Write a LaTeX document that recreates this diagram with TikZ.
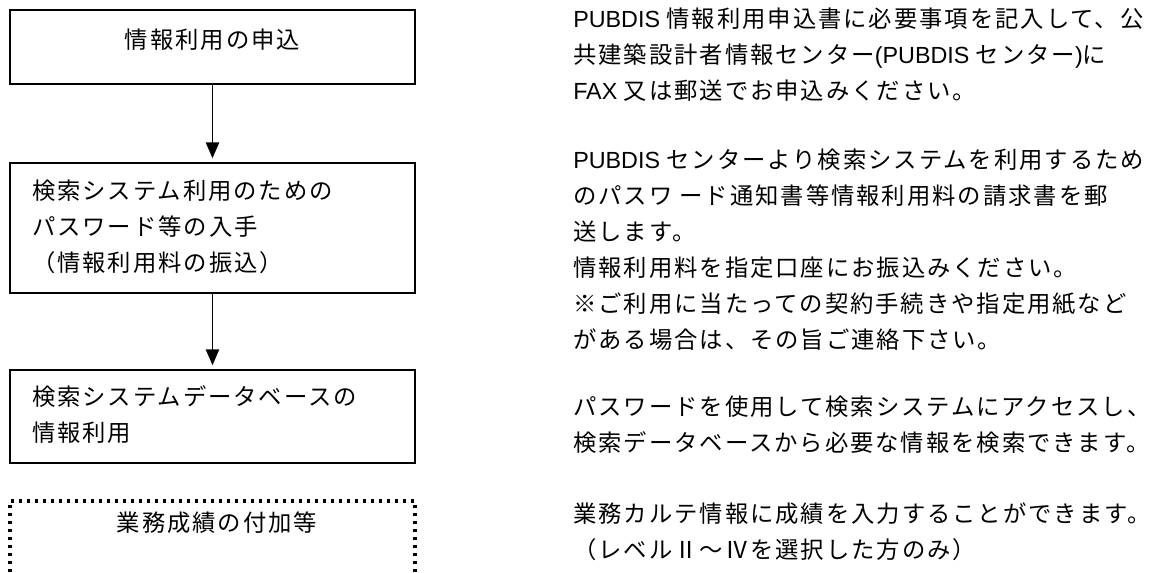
\documentclass[tikz,border=0pt]{standalone}
\usepackage{fontspec}
\setmainfont{Noto Sans CJK JP}[LetterSpace=8.4]
\newfontfamily\enfont{Liberation Sans}[Scale=1.0]
\newcommand{\enf}[1]{{\enfont #1}}
\newcommand{\jpsize}{\fontsize{17.5pt}{27pt}\selectfont}
\usepackage{tikz}
\usetikzlibrary{arrows.meta}
\tikzset{
  stepbox/.style={draw, line width=1.1pt, minimum width=303.75pt, text width=270.75pt,
    inner xsep=16.5pt, inner ysep=0pt, align=left, font=\jpsize},
  note/.style={anchor=north west, inner sep=0pt, align=left, font=\jpsize},
  flow/.style={-{Triangle[length=12pt,width=10pt]}, line width=1.1pt, shorten >=3pt},
  dotframe/.style={line width=2.4pt, dash pattern=on 2.4pt off 3.6pt}
}
\begin{document}
\begin{tikzpicture}[x=0.75pt, y=-0.75pt]
        \useasboundingbox (0,0) rectangle (1161,572);
        % Steps on the left
        \node[stepbox, align=center, minimum height=55.5pt, text height=19pt, text depth=17pt] (apply) at (212.5,47) {情報利用の申込};
        \node[stepbox, minimum height=97.5pt] (password) at (212.5,228) {\strut 検索システム利用のための\\パスワード等の入手\\（情報利用料の振込）\strut};
        \node[stepbox, minimum height=69.75pt] (dbuse) at (212.5,416.5) {\strut 検索システムデータベースの\\情報利用\strut};
        \node[font=\jpsize, inner sep=0pt] (grade) at (217,524) {\strut 業務成績の付加等};
        % Arrows between steps
        \draw[flow] (apply) -- (password);
        \draw[flow] (password) -- (dbuse);
        % Dotted frame, open at the bottom
        \draw[dotframe] (10,572) |- (415,501) -- (415,572);
        % Notes on the right
        \node[note] (applyNote) at (573,1.7) {\strut\enf{PUBDIS }情報利用申込書に必要事項を記入して、公\\
          共建築設計者情報センター\enf{(PUBDIS }センター\enf{)}に\\
          \enf{FAX }又は郵送でお申込みください。};
        \node[note] (passwordNote) at (573,142.7) {\strut\enf{PUBDIS }センターより検索システムを利用するため\\
          のパスワ ード通知書等情報利用料の請求書を郵\\
          送します。\\
          情報利用料を指定口座にお振込みください。\\
          ※ご利用に当たっての契約手続きや指定用紙など\\
          がある場合は、その旨ご連絡下さい。};
        \node[note] (dbuseNote) at (573,389.7) {\strut パスワードを使用して検索システムにアクセスし、\\
          検索データベースから必要な情報を検索できます。};
        \node[note] (gradeNote) at (573,496.7) {\strut 業務カルテ情報に成績を入力することができます。\\
          （レベルⅡ～Ⅳを選択した方のみ）};
\end{tikzpicture}
\end{document}
